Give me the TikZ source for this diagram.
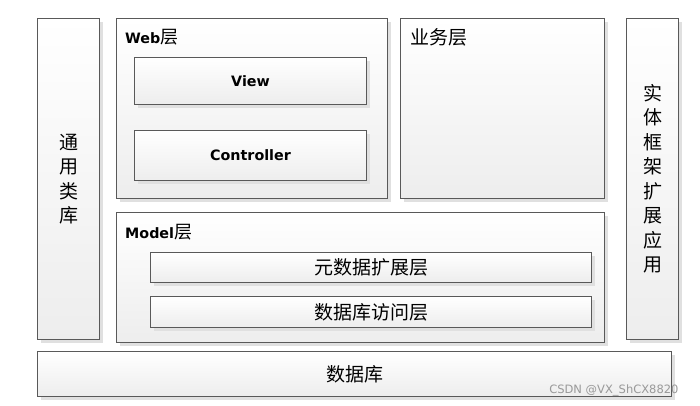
\documentclass[tikz,border=0pt]{standalone}
\usepackage{fontspec}
\setmainfont{DejaVu Sans}
\newfontfamily\cjk{Noto Sans CJK SC}
\usetikzlibrary{positioning,shadows}
\tikzset{
  layer/.style={draw=black!65,line width=1pt,top color=white,bottom color=black!7,
    drop shadow={shadow xshift=3pt,shadow yshift=-3pt,fill=black!12,opacity=1},
    anchor=north west,inner sep=0pt},
  zh/.style={font=\cjk\fontsize{19}{24.5}\selectfont},
  en/.style={font=\bfseries\fontsize{14.3}{16}\selectfont},
  title/.style={inner sep=0pt,anchor=west,font=\bfseries\fontsize{14.3}{16}\selectfont}
}
\newcommand{\ceng}{{\cjk\mdseries\fontsize{18}{18}\selectfont 层}}
\begin{document}
\begin{tikzpicture}[x=1pt,y=-1pt]
\useasboundingbox (0,0) rectangle (700,405);
\node[layer,minimum width=62,minimum height=321,zh,align=center] (lib) at (37,18) {通\\用\\类\\库};
\node[layer,minimum width=271,minimum height=180] (web) at (116,18) {};
\node[layer,minimum width=232,minimum height=47,en] (view) at (134,57) {View};
\node[layer,minimum width=232,minimum height=50,en] (ctrl) at (134,130) {Controller};
\node[layer,minimum width=204,minimum height=180] (biz) at (400,18) {};
\node[layer,minimum width=52,minimum height=321,zh,align=center] (ent) at (626,18) {实\\体\\框\\架\\扩\\展\\应\\用};
\node[layer,minimum width=488,minimum height=130] (model) at (116,212) {};
\node[layer,minimum width=441,minimum height=30,zh] (meta) at (150,252) {元数据扩展层};
\node[layer,minimum width=441,minimum height=31,zh] (dao) at (150,296) {数据库访问层};
\node[layer,minimum width=634,minimum height=45,zh] (db) at (37,351) {数据库};
\node[title] (webt) at ([xshift=9pt,yshift=-19pt]web.north west) {Web\ceng};
\node[title,zh] (bizt) at ([xshift=10pt,yshift=-19pt]biz.north west) {业务层};
\node[title] (modelt) at ([xshift=9pt,yshift=-20pt]model.north west) {Model\ceng};
\node[font=\fontsize{11.5}{12}\selectfont,text=black!40,anchor=east] (mark) at (682,390) {CSDN @VX\_ShCX8820};
\end{tikzpicture}
\end{document}
